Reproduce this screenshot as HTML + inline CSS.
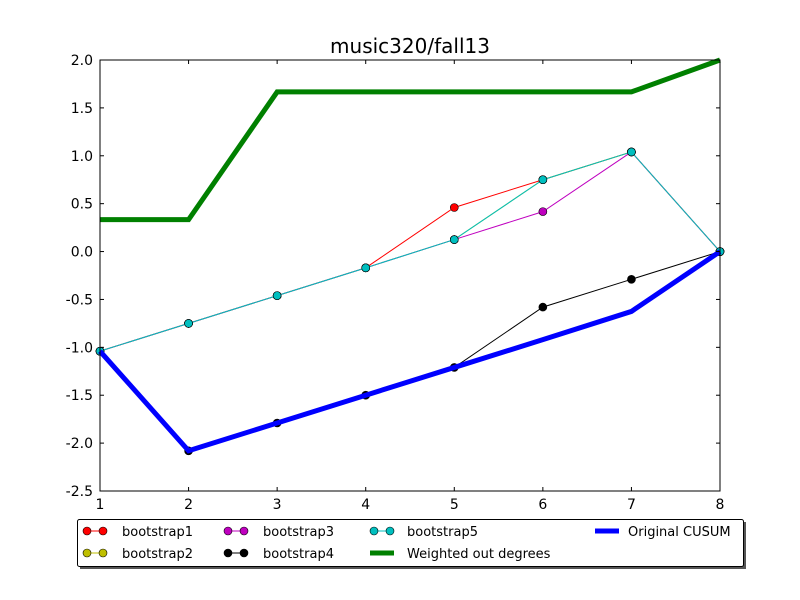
<!DOCTYPE html>
<html><head><meta charset="utf-8"><style>
body{margin:0;background:#fff;}
svg{display:block;font-family:"DejaVu Sans","Liberation Sans",sans-serif;}
</style></head><body>
<svg id="c" width="800" height="600">
<rect width="800" height="600" fill="#fff"/>
<text x="410" y="53" font-size="20" text-anchor="middle">music320/fall13</text>
<g id="plot"></g>
<rect x="100" y="60" width="620" height="431" fill="none" stroke="#000" stroke-width="1"/>
<g id="ticks"></g>
<g id="legend">
<rect x="80" y="522" width="666" height="47" fill="#555"/>
<rect x="77.5" y="519.5" width="666" height="47" fill="#fff" stroke="#000" stroke-width="1" rx="2"/>
</g>
</svg>
<script>
const xCats=[1,2,3,4,5,6,7,8];
const weighted=[0.333,0.333,1.667,1.667,1.667,1.667,1.667,2.0];
const original=[-1.04,-2.08,-1.79,-1.5,-1.21,-0.92,-0.625,0];
const boot1=[-1.04,-0.75,-0.46,-0.17,0.46,0.75,1.04,0];
const boot2=[-1.04,-0.75,-0.46,-0.17,0.125,0.75,1.04,0];
const boot3=[-1.04,-0.75,-0.46,-0.17,0.125,0.417,1.04,0];
const boot4=[-1.04,-2.08,-1.79,-1.5,-1.21,-0.58,-0.29,0];
const boot5=[-1.04,-0.75,-0.46,-0.17,0.125,0.75,1.04,0];
const yTicks=["2.0","1.5","1.0","0.5","0.0","-0.5","-1.0","-1.5","-2.0","-2.5"];
const xTicks=["1","2","3","4","5","6","7","8"];
const NS="http://www.w3.org/2000/svg";
function X(v){return 100+(v-1)*620/7;}
function Y(v){return 60+(2-v)*431/4.5;}
function mk(t,a,p){const e=document.createElementNS(NS,t);for(const k in a)e.setAttribute(k,a[k]);(p||document.getElementById('plot')).appendChild(e);return e;}
const series=[
 {d:boot1,c:'#ff0000',w:1,m:true,n:'bootstrap1'},
 {d:boot2,c:'#bfbf00',w:1,m:true,n:'bootstrap2'},
 {d:boot3,c:'#bf00bf',w:1,m:true,n:'bootstrap3'},
 {d:boot4,c:'#000000',w:1,m:true,n:'bootstrap4'},
 {d:boot5,c:'#00bfbf',w:1,m:true,n:'bootstrap5'},
 {d:weighted,c:'#008000',w:5,m:false,n:'weighted-out-degrees'},
 {d:original,c:'#0000ff',w:5,m:false,n:'original-cusum'}];
series.forEach(s=>{
 const g=mk('g',{});
 
 
 const pl=mk('polyline',{points:s.d.map((v,i)=>X(xCats[i])+','+Y(v)).join(' '),fill:'none',stroke:s.c,'stroke-width':s.w,'stroke-linejoin':'miter'},g);
 
 
 if(s.m){s.d.forEach((v,i)=>{
  const c=mk('circle',{cx:X(xCats[i]),cy:Y(v),r:4,fill:s.c,stroke:'#000','stroke-width':0.6},g);
  
  
 });}
});
const tk=document.getElementById('ticks');
yTicks.forEach(t=>{const v=parseFloat(t),y=Y(v);
 mk('line',{x1:100,y1:y,x2:104,y2:y,stroke:'#000'},tk);
 mk('line',{x1:716,y1:y,x2:720,y2:y,stroke:'#000'},tk);
 const e=mk('text',{x:93,y:y+5,'font-size':14,'text-anchor':'end'},tk);e.textContent=t;
 
 
});
xTicks.forEach(t=>{const x=X(parseFloat(t));
 mk('line',{x1:x,y1:491,x2:x,y2:487,stroke:'#000'},tk);
 mk('line',{x1:x,y1:60,x2:x,y2:64,stroke:'#000'},tk);
 const e=mk('text',{x:x,y:509,'font-size':14,'text-anchor':'middle'},tk);e.textContent=t;
 
 
});
const lg=document.getElementById('legend');
const ents=[[0,0,80,122],[1,1,80,122],[2,0,221,263],[3,1,221,263],[4,0,367,407],[5,1,367,407],[6,0,592,628]];
const labels=['bootstrap1','bootstrap2','bootstrap3','bootstrap4','bootstrap5','Weighted out degrees','Original CUSUM'];
ents.forEach((e,k)=>{const s=series[e[0]];const y=e[1]?553:531;
 const g=mk('g',{},lg);
 
 
 if(s.m){mk('line',{x1:e[2]+7,y1:y,x2:e[2]+23,y2:y,stroke:s.c},g);
  mk('circle',{cx:e[2]+7,cy:y,r:4,fill:s.c,stroke:'#000','stroke-width':0.6},g);
  mk('circle',{cx:e[2]+23,cy:y,r:4,fill:s.c,stroke:'#000','stroke-width':0.6},g);}
 else mk('line',{x1:e[2]+3,y1:y,x2:e[2]+27,y2:y,stroke:s.c,'stroke-width':5},g);
 const t=mk('text',{x:e[3],y:y+5,'font-size':13},g);t.textContent=labels[k];
});
</script>
</body></html>
